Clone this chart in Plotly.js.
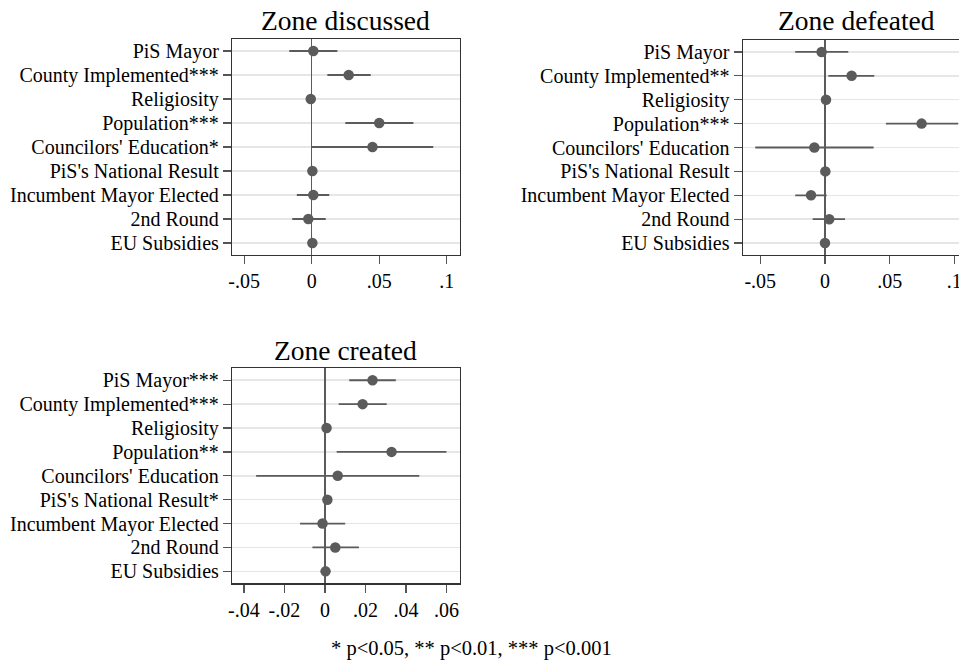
<!DOCTYPE html>
<html><head><meta charset="utf-8">
<script src="https://cdn.plot.ly/plotly-3.0.1.min.js"></script>
<style>html,body{margin:0;padding:0;background:#fff;}#chart{width:959px;height:669px;}</style>
</head><body><div id="chart"></div>
<script>
// ---------- data ----------
const titles = ["Zone discussed", "Zone defeated", "Zone created"];

const labelsDiscussed = ["PiS Mayor","County Implemented***","Religiosity","Population***","Councilors' Education*","PiS's National Result","Incumbent Mayor Elected","2nd Round","EU Subsidies"];
const coefDiscussed = [0.0012, 0.0274, -0.0007, 0.0500, 0.0450, 0.0005, 0.0012, -0.0025, 0.0005];
const loDiscussed   = [-0.0166, 0.0116, -0.0012, 0.0249, 0.0000, 0.0000, -0.0110, -0.0144, 0.0000];
const hiDiscussed   = [0.0190, 0.0437, -0.0002, 0.0753, 0.0900, 0.0010, 0.0130, 0.0104, 0.0010];

const labelsDefeated = ["PiS Mayor","County Implemented**","Religiosity","Population***","Councilors' Education","PiS's National Result","Incumbent Mayor Elected","2nd Round","EU Subsidies"];
const coefDefeated = [-0.0026, 0.0206, 0.0008, 0.0747, -0.0082, 0.0003, -0.0108, 0.0033, 0.0000];
const loDefeated   = [-0.0230, 0.0026, 0.0003, 0.0471, -0.0539, -0.0002, -0.0230, -0.0095, -0.0005];
const hiDefeated   = [0.0180, 0.0381, 0.0013, 0.1030, 0.0376, 0.0008, 0.0013, 0.0155, 0.0005];

const labelsCreated = ["PiS Mayor***","County Implemented***","Religiosity","Population**","Councilors' Education","PiS's National Result*","Incumbent Mayor Elected","2nd Round","EU Subsidies"];
const coefCreated = [0.0235, 0.0186, 0.0008, 0.0329, 0.0063, 0.0012, -0.0012, 0.0051, 0.0003];
const loCreated   = [0.0120, 0.0068, 0.0004, 0.0058, -0.0340, 0.0007, -0.0123, -0.0062, -0.0001];
const hiCreated   = [0.0350, 0.0305, 0.0012, 0.0600, 0.0466, 0.0017, 0.0100, 0.0168, 0.0007];

const xTicks1 = [-0.05, 0, 0.05, 0.1];
const xTickText1 = ["-.05", "0", ".05", ".1"];
const xTicks3 = [-0.04, -0.02, 0, 0.02, 0.04, 0.06];
const xTickText3 = ["-.04", "-.02", "0", ".02", ".04", ".06"];
const footnote = "* p<0.05, ** p<0.01, *** p<0.001";

// ---------- styling ----------
const W = 959, H = 669;
const FONT = "Liberation Serif, Times New Roman, serif";
const MARK = "#5b5b5b";
const px = v => v / W;
const py = v => 1 - v / H;

function trace(labels, coef, lo, hi, xa, ya) {
  return {
    type: "scatter", mode: "markers",
    x: coef, y: labels, xaxis: xa, yaxis: ya,
    marker: {color: MARK, size: 10.5},
    error_x: {type: "data", symmetric: false,
      array: coef.map((c, i) => hi[i] - c),
      arrayminus: coef.map((c, i) => c - lo[i]),
      color: MARK, thickness: 1.8, width: 0},
    hoverinfo: "x+y", showlegend: false
  };
}

function yax(labels, domain, anchor) {
  return {domain: domain, anchor: anchor, type: "category", categoryorder: "array", categoryarray: labels,
    tickmode: "array", tickvals: labels, ticktext: labels,
    range: [labels.length - 0.5, -0.5], showgrid: true, gridcolor: "#e6e6e6", gridwidth: 1.5,
    showline: true, linecolor: "#333", linewidth: 1.2, mirror: false,
    ticks: "outside", ticklen: 8, tickwidth: 1.2, tickcolor: "#555",
    tickfont: {family: FONT, size: 20, color: "#000"}, ticklabelstandoff: 0, fixedrange: true};
}
function xax(domain, anchor, range, tv, tt, mirror) {
  return {domain: domain, anchor: anchor, range: range, tickmode: "array", tickvals: tv, ticktext: tt,
    showgrid: false, zeroline: true, zerolinecolor: MARK, zerolinewidth: 1.6,
    showline: true, linecolor: "#333", linewidth: 1.2, mirror: mirror,
    ticks: "outside", ticklen: 8, tickwidth: 1.2, tickcolor: "#555", ticklabeloverflow: "allow",
    tickfont: {family: FONT, size: 20, color: "#000"}, fixedrange: true};
}

const dataTraces = [
  trace(labelsDiscussed, coefDiscussed, loDiscussed, hiDiscussed, "x", "y"),
  trace(labelsDefeated, coefDefeated, loDefeated, hiDefeated, "x2", "y2"),
  trace(labelsCreated, coefCreated, loCreated, hiCreated, "x3", "y3")
];

const layout = {
  width: W, height: H, margin: {l: 0, r: 0, t: 0, b: 0},
  paper_bgcolor: "#fff", plot_bgcolor: "#fff",
  font: {family: FONT, color: "#000"},
  xaxis:  xax([px(232), px(460)], "y", [-0.059, 0.1098], xTicks1, xTickText1, true),
  yaxis:  Object.assign(yax(labelsDiscussed, [py(255), py(39)], "x"), {mirror: true}),
  xaxis2: xax([px(742.7), 1], "y2", [-0.0636, 0.1036], xTicks1, xTickText1, true),
  yaxis2: yax(labelsDefeated, [py(255), py(40)], "x2"),
  xaxis3: xax([px(232), px(460)], "y3", [-0.0459, 0.0667], xTicks3, xTickText3, true),
  yaxis3: Object.assign(yax(labelsCreated, [py(583.3), py(368.3)], "x3"), {mirror: true}),
  annotations: [
    {text: titles[0], x: px(345.5), y: py(21), xref: "paper", yref: "paper", xanchor: "center", yanchor: "middle", showarrow: false, font: {family: FONT, size: 27.5, color: "#000"}},
    {text: titles[1], x: px(856.5), y: py(21), xref: "paper", yref: "paper", xanchor: "center", yanchor: "middle", showarrow: false, font: {family: FONT, size: 27.5, color: "#000"}},
    {text: titles[2], x: px(345.5), y: py(350), xref: "paper", yref: "paper", xanchor: "center", yanchor: "middle", showarrow: false, font: {family: FONT, size: 27.5, color: "#000"}},
    {text: footnote, x: px(471), y: py(648), xref: "paper", yref: "paper", xanchor: "center", yanchor: "middle", showarrow: false, font: {family: FONT, size: 20.5, color: "#000"}}
  ]
};

Plotly.newPlot("chart", dataTraces, layout, {staticPlot: true, displayModeBar: false});
</script>
</body></html>
